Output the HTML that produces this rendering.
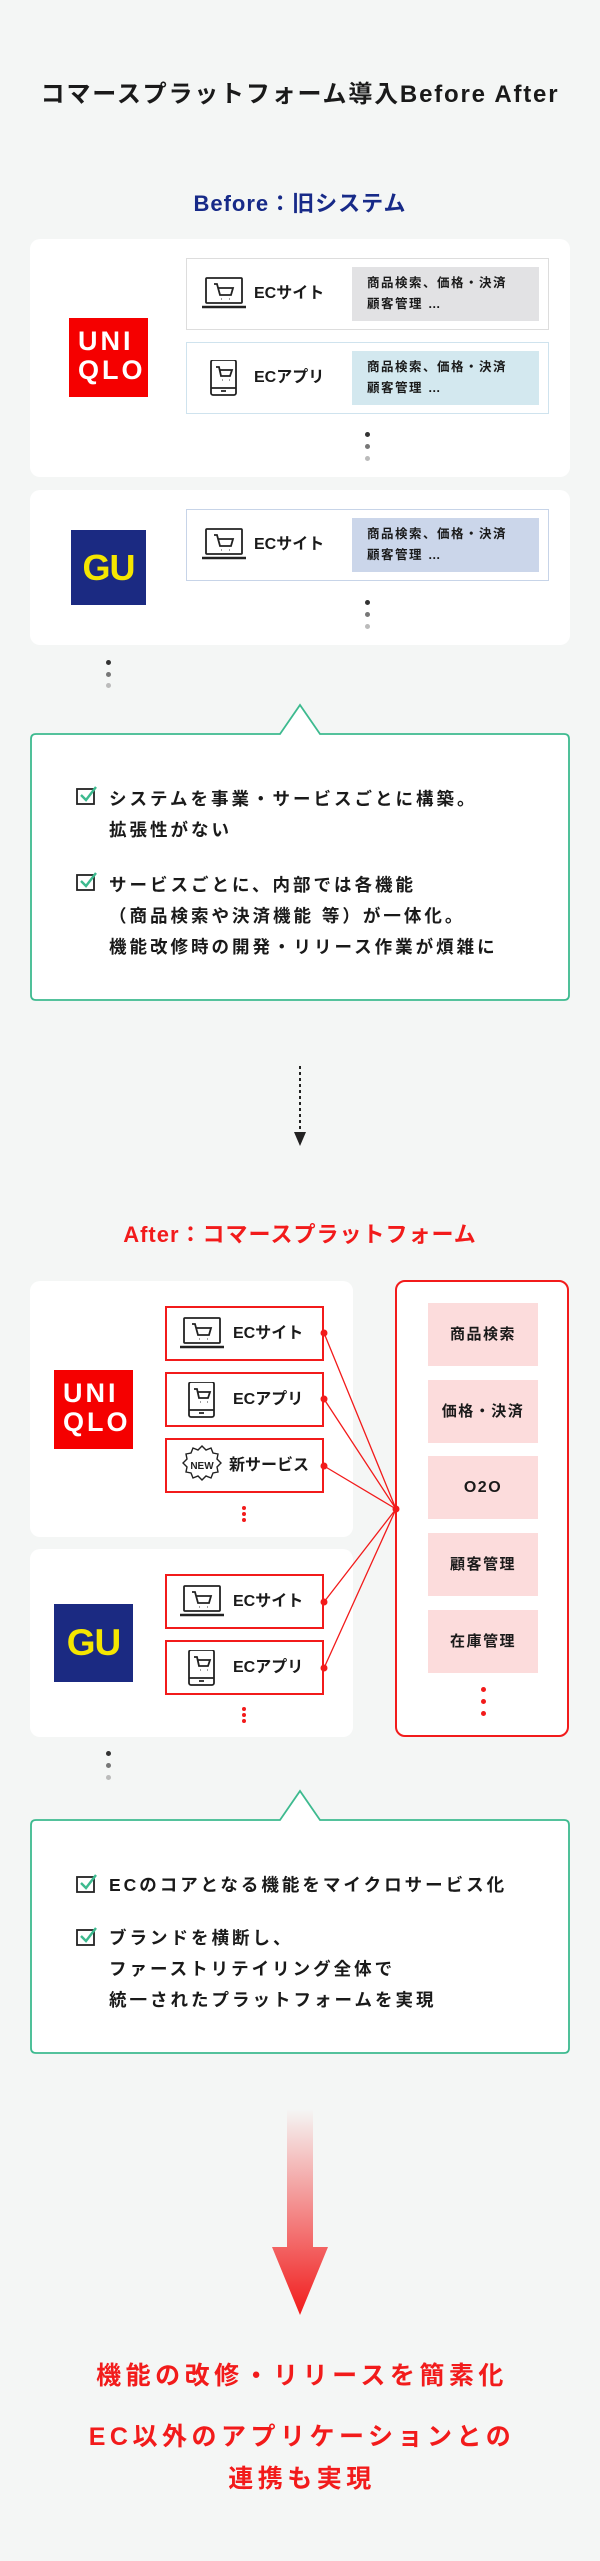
<!DOCTYPE html>
<html><head><meta charset="utf-8">
<style>
*{margin:0;padding:0;box-sizing:border-box}
body{width:600px;height:2561px;background:#f4f6f5;position:relative;font-family:"Liberation Sans","Noto Sans CJK JP",sans-serif;font-weight:bold;color:#1a1a1a;overflow:hidden}
.a{position:absolute}
.c{text-align:center;white-space:nowrap}
.card{position:absolute;background:#fff;border-radius:10px}
.row{position:absolute;left:186px;width:363px;height:72px;background:#fff;border:1.5px solid #ddd}
.row .lbl{position:absolute;left:67px;top:0;height:69px;line-height:69px;font-size:16px}
.row .in{position:absolute;left:165px;top:8px;width:187px;height:54px;font-size:12.5px;line-height:21px;padding:6px 0 0 15px;letter-spacing:1.5px}
.row svg{position:absolute;left:14px;top:17px}
.dot{position:absolute;width:5px;height:5px;border-radius:50%}
.svc{position:absolute;left:165px;width:159px;height:55px;border:2px solid #f21b1b;background:#fff}
.svc .lbl{position:absolute;left:66px;top:0;line-height:51px;font-size:16px}
.svc svg{position:absolute;left:12px;top:8px}
.pk{position:absolute;left:428px;width:110px;height:63px;background:#fcdcdc;text-align:center;line-height:63px;font-size:15px;letter-spacing:1.5px}
.rd{position:absolute;width:5px;height:5px;border-radius:50%;background:#f21b1b}
.it{position:absolute;left:109px;font-size:17.5px;line-height:31px;letter-spacing:3px;white-space:nowrap}
.red{color:#f21b1b}
</style></head><body>

<div class="a c" style="left:0;width:600px;top:74px;font-size:24px;letter-spacing:1.8px">コマースプラットフォーム導入Before After</div>
<div class="a c" style="left:0;width:600px;top:186px;font-size:22px;color:#172a88;letter-spacing:1px">Before：旧システム</div>

<div class="card" style="left:30px;top:239px;width:540px;height:238px"></div>
<div class="a" style="left:69px;top:318px;width:79px;height:79px;background:#f50000;color:#fff;font-size:27px;line-height:29px;padding:9px 0 0 9px;letter-spacing:3px">UNI<br>QLO</div>
<div class="row" style="top:258px">
<svg width="46" height="36" viewBox="0 0 46 36" fill="none" stroke="#222" stroke-width="1.8"><rect x="5" y="2" width="36" height="25" rx="1"/><path d="M1 31h44" stroke-width="2.5"/><path d="M13 8h3l3 11h11l2-7H17M20 23h.5M28 23h.5"/></svg>
<div class="lbl">ECサイト</div><div class="in" style="background:#e2e2e4">商品検索、価格・決済<br>顧客管理 …</div></div>
<div class="row" style="top:342px;border-color:#cfe3ee">
<svg width="46" height="36" viewBox="0 0 46 36" fill="none" stroke="#222" stroke-width="1.8"><rect x="10" y="0" width="25" height="35" rx="2"/><path d="M10 28h25M20 31h5M15 7h3l2 9h9l2-6H19M21 20h.5M28 20h.5"/></svg>
<div class="lbl">ECアプリ</div><div class="in" style="background:#d3e8ef">商品検索、価格・決済<br>顧客管理 …</div></div>
<div class="dot" style="left:365px;top:432px;background:#333"></div>
<div class="dot" style="left:365px;top:444px;background:#777"></div>
<div class="dot" style="left:365px;top:456px;background:#bbb"></div>

<div class="card" style="left:30px;top:490px;width:540px;height:155px"></div>
<div class="a" style="left:71px;top:530px;width:75px;height:75px;background:#1b2a82;color:#f5e600;font-size:36px;line-height:75px;text-align:center;letter-spacing:-1px">GU</div>
<div class="row" style="top:509px;border-color:#c7d4e8">
<svg width="46" height="36" viewBox="0 0 46 36" fill="none" stroke="#222" stroke-width="1.8"><rect x="5" y="2" width="36" height="25" rx="1"/><path d="M1 31h44" stroke-width="2.5"/><path d="M13 8h3l3 11h11l2-7H17M20 23h.5M28 23h.5"/></svg>
<div class="lbl">ECサイト</div><div class="in" style="background:#cbd6ea">商品検索、価格・決済<br>顧客管理 …</div></div>
<div class="dot" style="left:365px;top:600px;background:#333"></div>
<div class="dot" style="left:365px;top:612px;background:#777"></div>
<div class="dot" style="left:365px;top:624px;background:#bbb"></div>

<div class="dot" style="left:106px;top:660px;background:#333"></div>
<div class="dot" style="left:106px;top:672px;background:#777"></div>
<div class="dot" style="left:106px;top:683px;background:#bbb"></div>

<svg class="a" style="left:0;top:700px" width="600" height="304"><path d="M36 34H280L300 5L320 34H564Q569 34 569 39V295Q569 300 564 300H36Q31 300 31 295V39Q31 34 36 34Z" fill="#fff" stroke="#3dba8f" stroke-width="1.8"/></svg>
<svg class="a" style="left:76px;top:786px" width="24" height="20" viewBox="0 0 24 20" fill="none"><rect x="1" y="3" width="17" height="15" stroke="#222" stroke-width="1.8"/><path d="M5 9l5 5 10-13" stroke="#3dba8f" stroke-width="2.4"/></svg>
<div class="it" style="top:784px">システムを事業・サービスごとに構築。<br>拡張性がない</div>
<svg class="a" style="left:76px;top:872px" width="24" height="20" viewBox="0 0 24 20" fill="none"><rect x="1" y="3" width="17" height="15" stroke="#222" stroke-width="1.8"/><path d="M5 9l5 5 10-13" stroke="#3dba8f" stroke-width="2.4"/></svg>
<div class="it" style="top:870px">サービスごとに、内部では各機能<br>（商品検索や決済機能 等）が一体化。<br>機能改修時の開発・リリース作業が煩雑に</div>

<svg class="a" style="left:290px;top:1064px" width="20" height="84"><path d="M10 2V70" stroke="#222" stroke-width="2" stroke-dasharray="3 3"/><path d="M4 68L10 82L16 68Z" fill="#222"/></svg>

<div class="a c red" style="left:0;width:600px;top:1217px;font-size:22px;letter-spacing:1px">After：コマースプラットフォーム</div>

<div class="card" style="left:30px;top:1281px;width:323px;height:256px"></div>
<div class="card" style="left:30px;top:1549px;width:323px;height:188px"></div>
<div class="a" style="left:395px;top:1280px;width:174px;height:457px;border:2px solid #f21b1b;border-radius:10px;background:#fff"></div>

<div class="a" style="left:54px;top:1370px;width:79px;height:79px;background:#f50000;color:#fff;font-size:27px;line-height:29px;padding:9px 0 0 9px;letter-spacing:3px">UNI<br>QLO</div>
<div class="a" style="left:54px;top:1604px;width:79px;height:78px;background:#1b2a82;color:#f5e600;font-size:37px;line-height:78px;text-align:center;letter-spacing:-1px">GU</div>

<div class="svc" style="top:1306px"><svg width="46" height="36" viewBox="0 0 46 36" fill="none" stroke="#222" stroke-width="1.8"><rect x="5" y="2" width="36" height="25" rx="1"/><path d="M1 31h44" stroke-width="2.5"/><path d="M13 8h3l3 11h11l2-7H17M20 23h.5M28 23h.5"/></svg><div class="lbl">ECサイト</div></div>
<div class="svc" style="top:1372px"><svg width="46" height="36" viewBox="0 0 46 36" fill="none" stroke="#222" stroke-width="1.8"><rect x="10" y="0" width="25" height="35" rx="2"/><path d="M10 28h25M20 31h5M15 7h3l2 9h9l2-6H19M21 20h.5M28 20h.5"/></svg><div class="lbl">ECアプリ</div></div>
<div class="svc" style="top:1438px"><svg width="46" height="40" viewBox="0 0 46 40" style="top:5px" fill="none" stroke="#222" stroke-width="1.4"><path d="M23 1l4 4 5-2 2 5 5 1-1 5 4 4-4 4 1 5-5 1-2 5-5-2-4 4-4-4-5 2-2-5-5-1 1-5-4-4 4-4-1-5 5-1 2-5 5 2z"/><text x="23" y="24" font-size="10" font-family="Liberation Sans" font-weight="bold" text-anchor="middle" fill="#222" stroke="none">NEW</text></svg><div class="lbl" style="left:62px">新サービス</div></div>
<div class="svc" style="top:1574px"><svg width="46" height="36" viewBox="0 0 46 36" fill="none" stroke="#222" stroke-width="1.8"><rect x="5" y="2" width="36" height="25" rx="1"/><path d="M1 31h44" stroke-width="2.5"/><path d="M13 8h3l3 11h11l2-7H17M20 23h.5M28 23h.5"/></svg><div class="lbl">ECサイト</div></div>
<div class="svc" style="top:1640px"><svg width="46" height="36" viewBox="0 0 46 36" fill="none" stroke="#222" stroke-width="1.8"><rect x="10" y="0" width="25" height="35" rx="2"/><path d="M10 28h25M20 31h5M15 7h3l2 9h9l2-6H19M21 20h.5M28 20h.5"/></svg><div class="lbl">ECアプリ</div></div>

<div class="rd" style="left:242px;top:1506px;width:4px;height:4px"></div>
<div class="rd" style="left:242px;top:1512px;width:4px;height:4px"></div>
<div class="rd" style="left:242px;top:1518px;width:4px;height:4px"></div>
<div class="rd" style="left:242px;top:1707px;width:4px;height:4px"></div>
<div class="rd" style="left:242px;top:1713px;width:4px;height:4px"></div>
<div class="rd" style="left:242px;top:1719px;width:4px;height:4px"></div>

<svg class="a" style="left:0;top:0" width="600" height="1800">
<g stroke="#f21b1b" stroke-width="1.3" fill="none">
<path d="M324 1333L396 1509M324 1399L396 1509M324 1466L396 1509M324 1602L396 1509M324 1668L396 1509"/></g>
<g fill="#f21b1b"><circle cx="324" cy="1333" r="3.5"/><circle cx="324" cy="1399" r="3.5"/><circle cx="324" cy="1466" r="3.5"/><circle cx="324" cy="1602" r="3.5"/><circle cx="324" cy="1668" r="3.5"/><circle cx="396" cy="1509" r="3.5"/></g>
</svg>

<div class="pk" style="top:1303px">商品検索</div>
<div class="pk" style="top:1380px">価格・決済</div>
<div class="pk" style="top:1456px;font-size:16px">O2O</div>
<div class="pk" style="top:1533px">顧客管理</div>
<div class="pk" style="top:1610px">在庫管理</div>
<div class="rd" style="left:481px;top:1687px"></div>
<div class="rd" style="left:481px;top:1699px"></div>
<div class="rd" style="left:481px;top:1711px"></div>

<div class="dot" style="left:106px;top:1751px;background:#333"></div>
<div class="dot" style="left:106px;top:1763px;background:#777"></div>
<div class="dot" style="left:106px;top:1775px;background:#bbb"></div>

<svg class="a" style="left:0;top:1786px" width="600" height="270"><path d="M36 34H280L300 5L320 34H564Q569 34 569 39V262Q569 267 564 267H36Q31 267 31 262V39Q31 34 36 34Z" fill="#fff" stroke="#3dba8f" stroke-width="1.8"/></svg>
<svg class="a" style="left:76px;top:1874px" width="24" height="20" viewBox="0 0 24 20" fill="none"><rect x="1" y="3" width="17" height="15" stroke="#222" stroke-width="1.8"/><path d="M5 9l5 5 10-13" stroke="#3dba8f" stroke-width="2.4"/></svg>
<div class="it" style="top:1870px">ECのコアとなる機能をマイクロサービス化</div>
<svg class="a" style="left:76px;top:1927px" width="24" height="20" viewBox="0 0 24 20" fill="none"><rect x="1" y="3" width="17" height="15" stroke="#222" stroke-width="1.8"/><path d="M5 9l5 5 10-13" stroke="#3dba8f" stroke-width="2.4"/></svg>
<div class="it" style="top:1923px">ブランドを横断し、<br>ファーストリテイリング全体で<br>統一されたプラットフォームを実現</div>

<svg class="a" style="left:260px;top:2105px" width="80" height="215">
<defs><linearGradient id="g" x1="0" y1="0" x2="0" y2="1"><stop offset="0" stop-color="#f21b1b" stop-opacity="0"/><stop offset="1" stop-color="#f21b1b"/></linearGradient></defs>
<path d="M27 4H53V142H68L40 210L12 142H27Z" fill="url(#g)"/></svg>

<div class="a c red" style="left:0;width:600px;top:2356px;font-size:25px;letter-spacing:4.5px;padding-left:4px">機能の改修・リリースを簡素化</div>
<div class="a c red" style="left:0;width:600px;top:2416px;font-size:25px;letter-spacing:4.5px;line-height:42px;padding-left:4px">EC以外のアプリケーションとの<br>連携も実現</div>

</body></html>
